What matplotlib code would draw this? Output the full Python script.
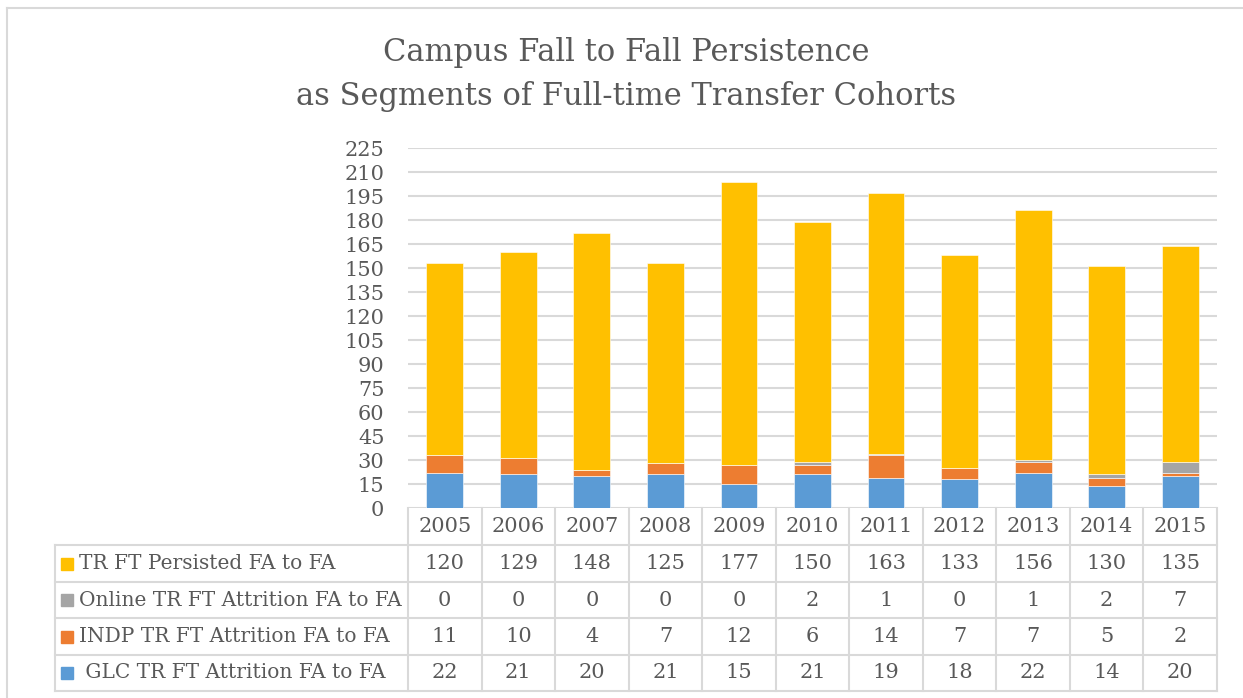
import numpy as np
import matplotlib.pyplot as plt
from matplotlib.transforms import blended_transform_factory
from matplotlib.patches import Rectangle
from matplotlib.lines import Line2D

years = ["2005", "2006", "2007", "2008", "2009", "2010",
         "2011", "2012", "2013", "2014", "2015"]
glc = [22, 21, 20, 21, 15, 21, 19, 18, 22, 14, 20]
indp = [11, 10, 4, 7, 12, 6, 14, 7, 7, 5, 2]
online = [0, 0, 0, 0, 0, 2, 1, 0, 1, 2, 7]
persisted = [120, 129, 148, 125, 177, 150, 163, 133, 156, 130, 135]

names = ["TR FT Persisted FA to FA", "Online TR FT Attrition FA to FA",
         "INDP TR FT Attrition FA to FA", " GLC TR FT Attrition FA to FA"]
colors = ["#FFC000", "#A5A5A5", "#ED7D31", "#5B9BD5"]

W, H = 1243, 698
GRID = "#D9D9D9"
TXT = "#595959"
FONT = "DejaVu Serif"


def fx(px):
    return px / W


def fy(py):
    return 1 - py / H


fig = plt.figure(figsize=(W / 100, H / 100), dpi=100)

# outer frame
fig.add_artist(Line2D([fx(7), fx(7)], [fy(8), fy(698)], transform=fig.transFigure,
                      color=GRID, lw=1.5))
fig.add_artist(Line2D([fx(7), fx(1243)], [fy(8), fy(8)], transform=fig.transFigure,
                      color=GRID, lw=1.5))

fig.text(fx(626), fy(52), "Campus Fall to Fall Persistence", ha="center", va="center",
         fontsize=22, color=TXT, family=FONT)
fig.text(fx(626), fy(97), "as Segments of Full-time Transfer Cohorts", ha="center",
         va="center", fontsize=22, color=TXT, family=FONT)

ax = fig.add_axes([fx(408), fy(508), fx(1217) - fx(408), fy(148) - fy(508)])
x = np.arange(len(years))
bottom = np.zeros(len(years))
for vals, c in zip([glc, indp, online, persisted], colors[::-1]):
    ax.bar(x, vals, 0.5, bottom=bottom, color=c, edgecolor="white", linewidth=0.4, zorder=3)
    bottom += np.array(vals)

ax.set_xlim(-0.5, len(years) - 0.5)
ax.set_ylim(0, 225)
ax.set_yticks(range(0, 226, 15))
ax.set_xticks([])
ax.grid(axis="y", color=GRID, lw=1.5, zorder=0)
for s in ax.spines.values():
    s.set_visible(False)
ax.tick_params(axis="y", length=0, pad=17, labelsize=15, labelcolor=TXT)
for lab in ax.get_yticklabels():
    lab.set_family(FONT)

# data table below the plot
trans = blended_transform_factory(ax.transData, fig.transFigure)
row_edges = [508, 545, 582, 618, 655, 691]
lw = 1.5
for i in range(len(years) + 1):
    fig.add_artist(Line2D([i - 0.5, i - 0.5], [fy(508), fy(691)], transform=trans,
                          color=GRID, lw=lw))
fig.add_artist(Line2D([fx(55), fx(55)], [fy(545), fy(691)], transform=fig.transFigure,
                      color=GRID, lw=lw))
for py in row_edges[1:]:
    fig.add_artist(Line2D([fx(55), fx(1217)], [fy(py), fy(py)], transform=fig.transFigure,
                          color=GRID, lw=lw))

for i, yr in enumerate(years):
    fig.text(i, fy(527), yr, transform=trans, ha="center", va="center",
             fontsize=15, color=TXT, family=FONT)

rows = [persisted, online, indp, glc]
for r, (name, c, vals) in enumerate(zip(names, colors, rows)):
    yc = (row_edges[r + 1] + row_edges[r + 2]) / 2
    fig.add_artist(Rectangle((fx(61), fy(yc + 6)), fx(12), 12 / H, transform=fig.transFigure,
                             color=c))
    fig.text(fx(79), fy(yc), name, ha="left", va="center", fontsize=14.5, color=TXT,
             family=FONT)
    for i, v in enumerate(vals):
        fig.text(i, fy(yc), str(v), transform=trans, ha="center", va="center",
                 fontsize=15, color=TXT, family=FONT)

fig.savefig("out.png", dpi=100)
